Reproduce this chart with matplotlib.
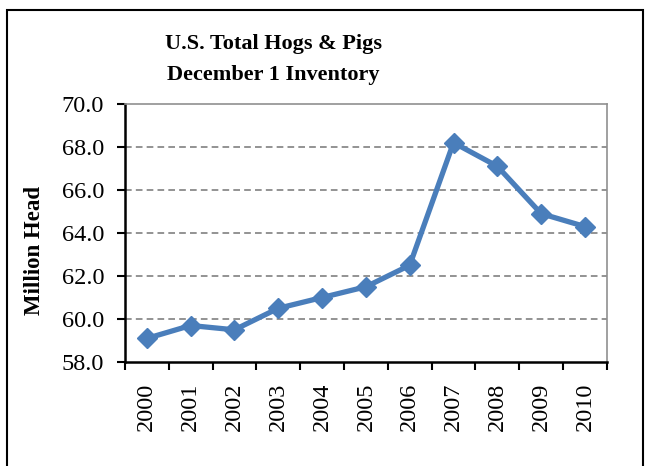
import numpy as np
import matplotlib.pyplot as plt
from matplotlib.patches import Rectangle

# -----------------------------
# Data
# -----------------------------

years = ["2000", "2001", "2002", "2003", "2004", "2005",
         "2006", "2007", "2008", "2009", "2010"]
inventory = [59.1, 59.7, 59.5, 60.5, 61.0, 61.5, 62.5, 68.2, 67.1, 64.9, 64.3]

y_ticks = [58.0, 60.0, 62.0, 64.0, 66.0, 68.0, 70.0]

# -----------------------------
# Figure
# -----------------------------

plt.rcParams["font.family"] = ["Liberation Serif", "DejaVu Serif"]

fig = plt.figure(figsize=(6.47, 4.66), dpi=100)
ax = fig.add_axes([0.193, 0.223, 0.745, 0.554])

x = np.arange(len(years))
ax.plot(x, inventory, color="#4A7EBB", linewidth=3.8, marker="D",
        markersize=10.5, zorder=3)

ax.set_xlim(-0.5, len(years) - 0.5)
ax.set_ylim(58, 70)
ax.set_yticks(y_ticks)
ax.set_yticklabels([f"{v:.1f}" for v in y_ticks], fontsize=17.5)

ax.set_xticks(x)
ax.set_xticklabels(years, rotation=90, fontsize=17.5)
ax.tick_params(axis="x", which="major", length=0, pad=15)
ax.set_xticks(np.arange(-0.5, len(years)), minor=True)
ax.tick_params(axis="x", which="minor", length=6, width=1.5, direction="out")
ax.tick_params(axis="y", length=6, width=1.5, direction="out", pad=9)

# dashed horizontal gridlines
for v in y_ticks[1:-1]:
    ax.axhline(v, color="#808080", linestyle=(0, (4, 2.5)), linewidth=1.2, zorder=1)

ax.spines["left"].set_linewidth(1.8)
ax.spines["bottom"].set_linewidth(1.8)
ax.spines["top"].set_color("#909090")
ax.spines["top"].set_linewidth(1.2)
ax.spines["right"].set_color("#909090")
ax.spines["right"].set_linewidth(1.2)

# -----------------------------
# Titles
# -----------------------------

fig.text(0.422, 0.905, "U.S. Total Hogs & Pigs", ha="center", va="center",
         fontsize=16, fontweight="bold")
fig.text(0.422, 0.838, "December 1 Inventory", ha="center", va="center",
         fontsize=16, fontweight="bold")
fig.text(0.054, 0.4625, "Million Head", rotation=90, ha="center", va="center",
         fontsize=16.5, fontweight="bold")

# outer chart border
fig.patches.append(Rectangle((7 / 647, -0.02), 636 / 647, 456 / 466 + 0.02,
                             transform=fig.transFigure, fill=False,
                             edgecolor="black", linewidth=1.5))

fig.savefig("out.png", dpi=100)
